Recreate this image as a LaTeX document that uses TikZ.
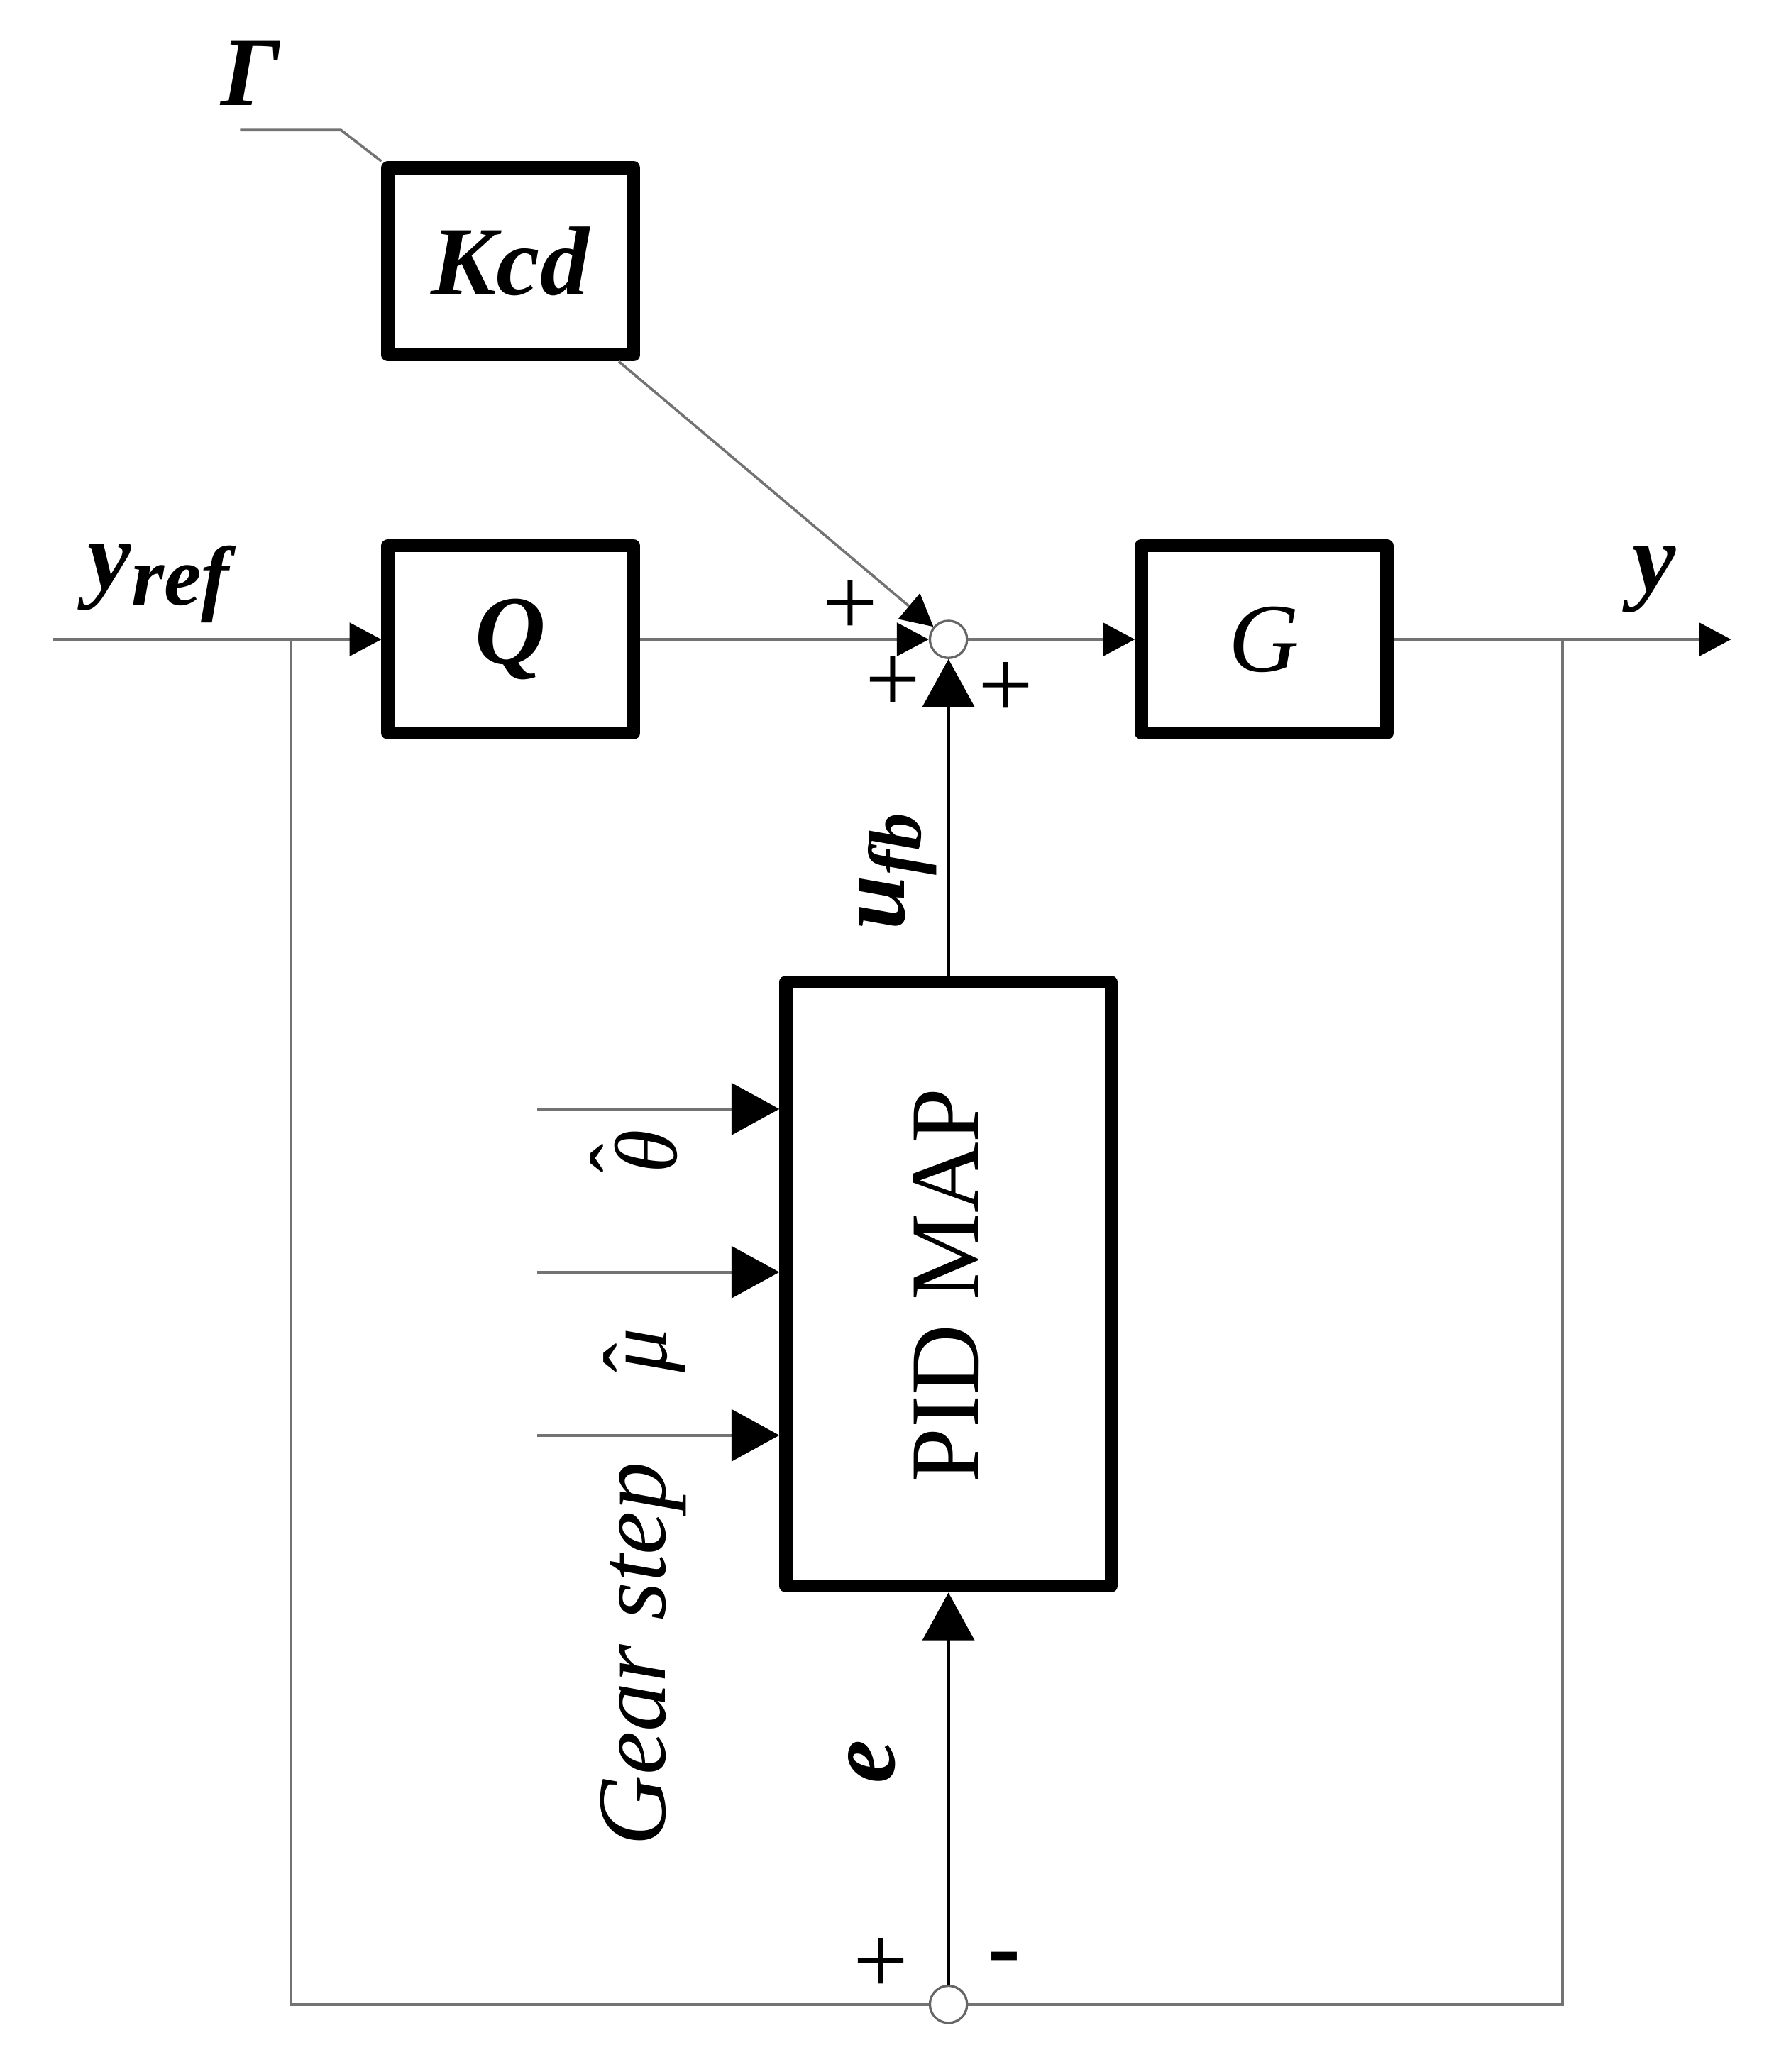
\documentclass[tikz,border=0pt]{standalone}
\usepackage{fontspec}
\setmainfont{Liberation Serif}
\usetikzlibrary{positioning, arrows, arrows.meta}

\newcommand{\hatsym}[2]{\makebox[0pt][l]{\raisebox{#1}{ˆ}}\textit{#2}}

\tikzset{
  block/.style={draw, line width=2.8pt, line join=round, minimum width=1.85cm,
    minimum height=1.41cm, inner sep=0pt, font=\fontsize{21}{25}\selectfont},
  summer/.style={draw=black!60, circle, line width=0.5pt, minimum size=0.28cm, inner sep=0pt},
  conn/.style={draw=black!55, line width=0.55pt},
  wire/.style={draw=black, line width=0.6pt},
  tipS/.style={-{Triangle[length=0.24cm, width=0.25cm, color=black]}},
  tipL/.style={-{Triangle[length=0.36cm, width=0.39cm, color=black]}},
  lbl/.style={font=\fontsize{21}{25}\selectfont, inner sep=0pt}
}

\begin{document}
\begin{tikzpicture}[x=0.01cm, y=-0.01cm]
  \useasboundingbox[fill=white] (0,0) rectangle (1337,1562);

  % blocks
  \node[block] (kcd) at (385,197) {\textbf{\textit{Kcd}}};
  \node[block] (q) at (385,482) {\textbf{\textit{Q}}};
  \node[block] (g) at (953,482) {\textit{G}};
  \node[block, minimum width=2.45cm, minimum height=4.55cm] (pid) at (715,968) {};
  \node[lbl, rotate=90] (pidtxt) at (713,969) {PID MAP};

  % summing points
  \node[summer] (sum) at (715,482) {};
  \node[summer] (bsum) at (715,1511) {};

  % free ends and branch points
  \coordinate (yin) at (40,482);
  \coordinate (jl) at (219,482);
  \coordinate (jr) at (1178,482);
  \coordinate (yout) at (1305,482);
  \coordinate (gam) at (181,98);
  \coordinate (gamk) at (257,98);

  % connectors
  \draw[conn, tipS] (yin) -- (q);
  \draw[conn, tipS] (q) -- (sum);
  \draw[conn, tipS] (sum) -- (g);
  \draw[conn, tipS] (g) -- (yout);
  \draw[conn] (gam) -- (gamk) -- (kcd.north west);
  \draw[conn, tipS] ([xshift=-0.16cm]kcd.south east) -- (sum);
  \draw[conn] (jr) |- (bsum);
  \draw[conn] (bsum) -| (jl);
  \draw[wire, tipL] (bsum) -- (pid);
  \draw[wire, tipL] (pid) -- (sum);
  \foreach \n/\yy in {th/836, mu/959, gs/1082} {
    \coordinate (in\n) at (405,\yy);
    \draw[conn, tipL] (in\n) -- (in\n -| pid.west);
  }

  % labels
  \node[lbl] (gamma) at (189,55) {\textbf{\textit{Γ}}};
  \node[lbl] (yref) at (122,440) {\textbf{\textit{y}}\raisebox{-0.35ex}{\fontsize{18}{20}\selectfont\textbf{\textit{ref}}}};
  \node[lbl] (ylbl) at (1247,437) {\textbf{\textit{y}}};
  \node[lbl] (p1) at (641,458) {+};
  \node[lbl] (p2) at (673,516) {+};
  \node[lbl] (p3) at (758,520) {+};
  \node[lbl] (p4) at (664,1482) {+};
  \node[lbl] (m1) at (757,1482) {\textbf{-}};
  \node[lbl, rotate=90] (ufb) at (677,657) {\textbf{\textit{u}}\raisebox{-0.35ex}{\fontsize{16}{18}\selectfont\textbf{\textit{fb}}}};
  \node[lbl, rotate=90] (elbl) at (657,1328) {\textbf{\textit{e}}};
  \node[lbl, rotate=90, font=\fontsize{19}{22}\selectfont] (thlbl) at (478,868) {\hatsym{0.28em}{θ}};
  \node[lbl, rotate=90, font=\fontsize{19}{22}\selectfont] (mulbl) at (486,1018) {\hatsym{0.02em}{μ}};
  \node[lbl, rotate=90] (gslbl) at (485,1247) {\textit{Gear step}};
\end{tikzpicture}
\end{document}
